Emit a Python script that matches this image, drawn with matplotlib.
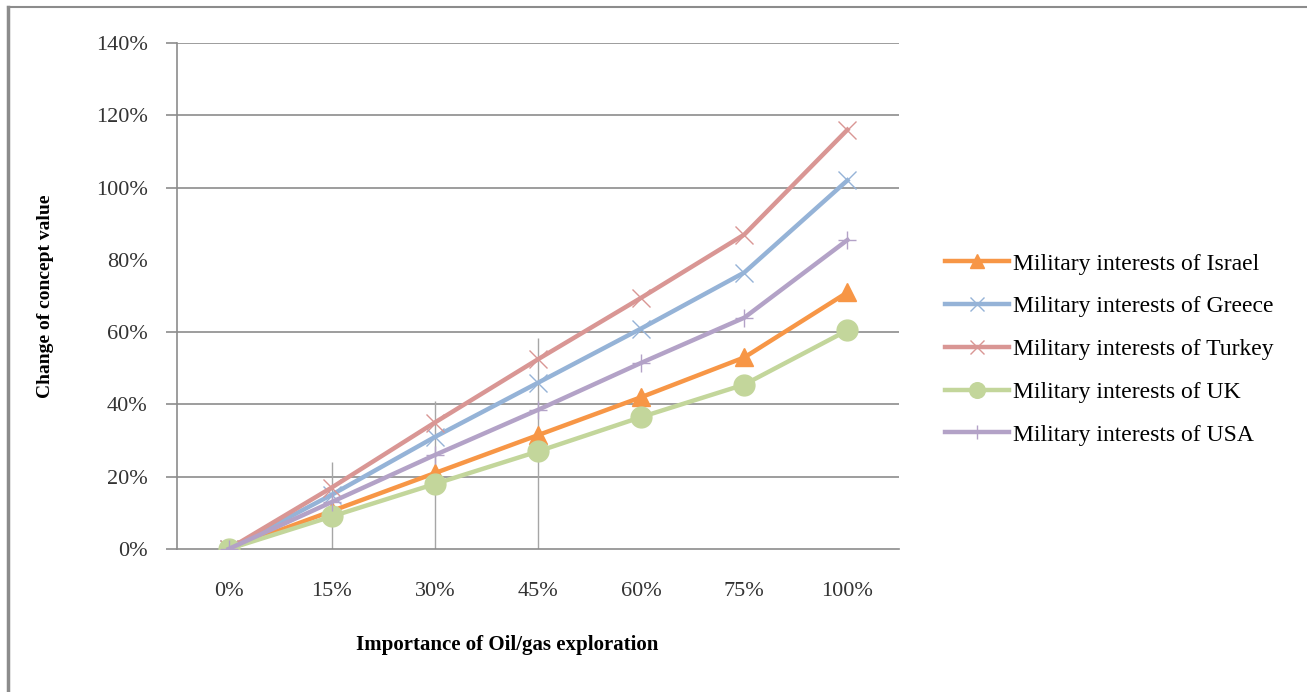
import matplotlib.pyplot as plt
from matplotlib.lines import Line2D
from matplotlib.ticker import FuncFormatter

# Oil/gas exploration importance levels (x categories)
levels = ['0%', '15%', '30%', '45%', '60%', '75%', '100%']

# change of concept value (%) per country
israel = [0, 10.5, 21, 31.5, 42, 53, 71]
greece = [0, 15, 31, 46, 61, 76.5, 102]
turkey = [0, 17, 35, 52.5, 69.5, 87, 116]
uk = [0, 9, 18, 27, 36.5, 45.5, 60.5]
usa = [0, 13, 26, 38.5, 51.5, 64, 85.5]

# vertical guide lines at the first few levels (top value, %)
guide_idx = [1, 2, 3]
guide_top = [24, 41, 58.5]

plt.rcParams['font.family'] = ['Liberation Serif', 'DejaVu Serif']

fig = plt.figure(figsize=(13.07, 6.92), dpi=100)
ax = fig.add_axes([177 / 1307, 1 - 549 / 692, 722 / 1307, 506 / 692])

x = list(range(len(levels)))

ax.vlines([x[i] for i in guide_idx], 0, guide_top, color='#a6a6a6', lw=1, zorder=1)

series = [
    ('Military interests of Israel', israel, '#f79646', '^', 13),
    ('Military interests of Greece', greece, '#95b3d7', 'x', 13),
    ('Military interests of Turkey', turkey, '#d99694', 'x', 13),
    ('Military interests of UK', uk, '#c3d69b', 'o', 15),
    ('Military interests of USA', usa, '#b3a2c7', '+', 13),
]
for name, vals, col, mk, ms in series:
    ax.plot(x, vals, color=col, lw=3.2, marker=mk, ms=ms, mew=1,
            label=name, zorder=3)

ax.set_xlim(-0.5, 6.5)
ax.set_ylim(0, 140)
ax.set_xticks(x)
ax.set_xticklabels(levels)
ax.set_yticks(range(0, 141, 20))
ax.yaxis.set_major_formatter(FuncFormatter(lambda v, p: f'{int(v)}%'))

# horizontal grid (no line at 80%)
for v in [20, 40, 60, 100, 120, 140]:
    ax.axhline(v, color='#8c8c8c', lw=1.2, zorder=0)

for s in ['top', 'right']:
    ax.spines[s].set_visible(False)
for s in ['left', 'bottom']:
    ax.spines[s].set_color('#8c8c8c')
    ax.spines[s].set_linewidth(1.2)
ax.tick_params(axis='y', direction='out', length=8, color='#8c8c8c', width=1.2,
               labelsize=16, pad=13, labelcolor='#333333')
ax.tick_params(axis='x', length=0, labelsize=16, pad=24, labelcolor='#333333')
ax.yaxis.get_major_ticks()[4].tick1line.set_visible(False)

ax.set_ylabel('Change of concept value', fontsize=14, fontweight='bold')
ax.yaxis.set_label_coords((45 - 177) / 722, 0.5)
ax.yaxis.label.set_va('center')
ax.set_xlabel('Importance of Oil/gas exploration', fontsize=15, fontweight='bold')
ax.xaxis.set_label_coords((507 - 177) / 722, -(645 - 549) / 506)
ax.xaxis.label.set_va('center')

fig.legend(loc='upper left', bbox_to_anchor=(945 / 1307, 1 - 253 / 692), frameon=False,
           fontsize=17, handlelength=2.7, labelspacing=0.9, handletextpad=0.2,
           borderpad=0, borderaxespad=0, markerscale=0.75)

# outer frame (left and top edges)
fig.add_artist(Line2D([8 / 1307, 8 / 1307], [0, 1 - 7 / 692], color='#8c8c8c', lw=2.5,
                      transform=fig.transFigure))
fig.add_artist(Line2D([8 / 1307, 1], [1 - 7 / 692, 1 - 7 / 692], color='#8c8c8c', lw=1.5,
                      transform=fig.transFigure))

fig.savefig('out.png', dpi=100)
